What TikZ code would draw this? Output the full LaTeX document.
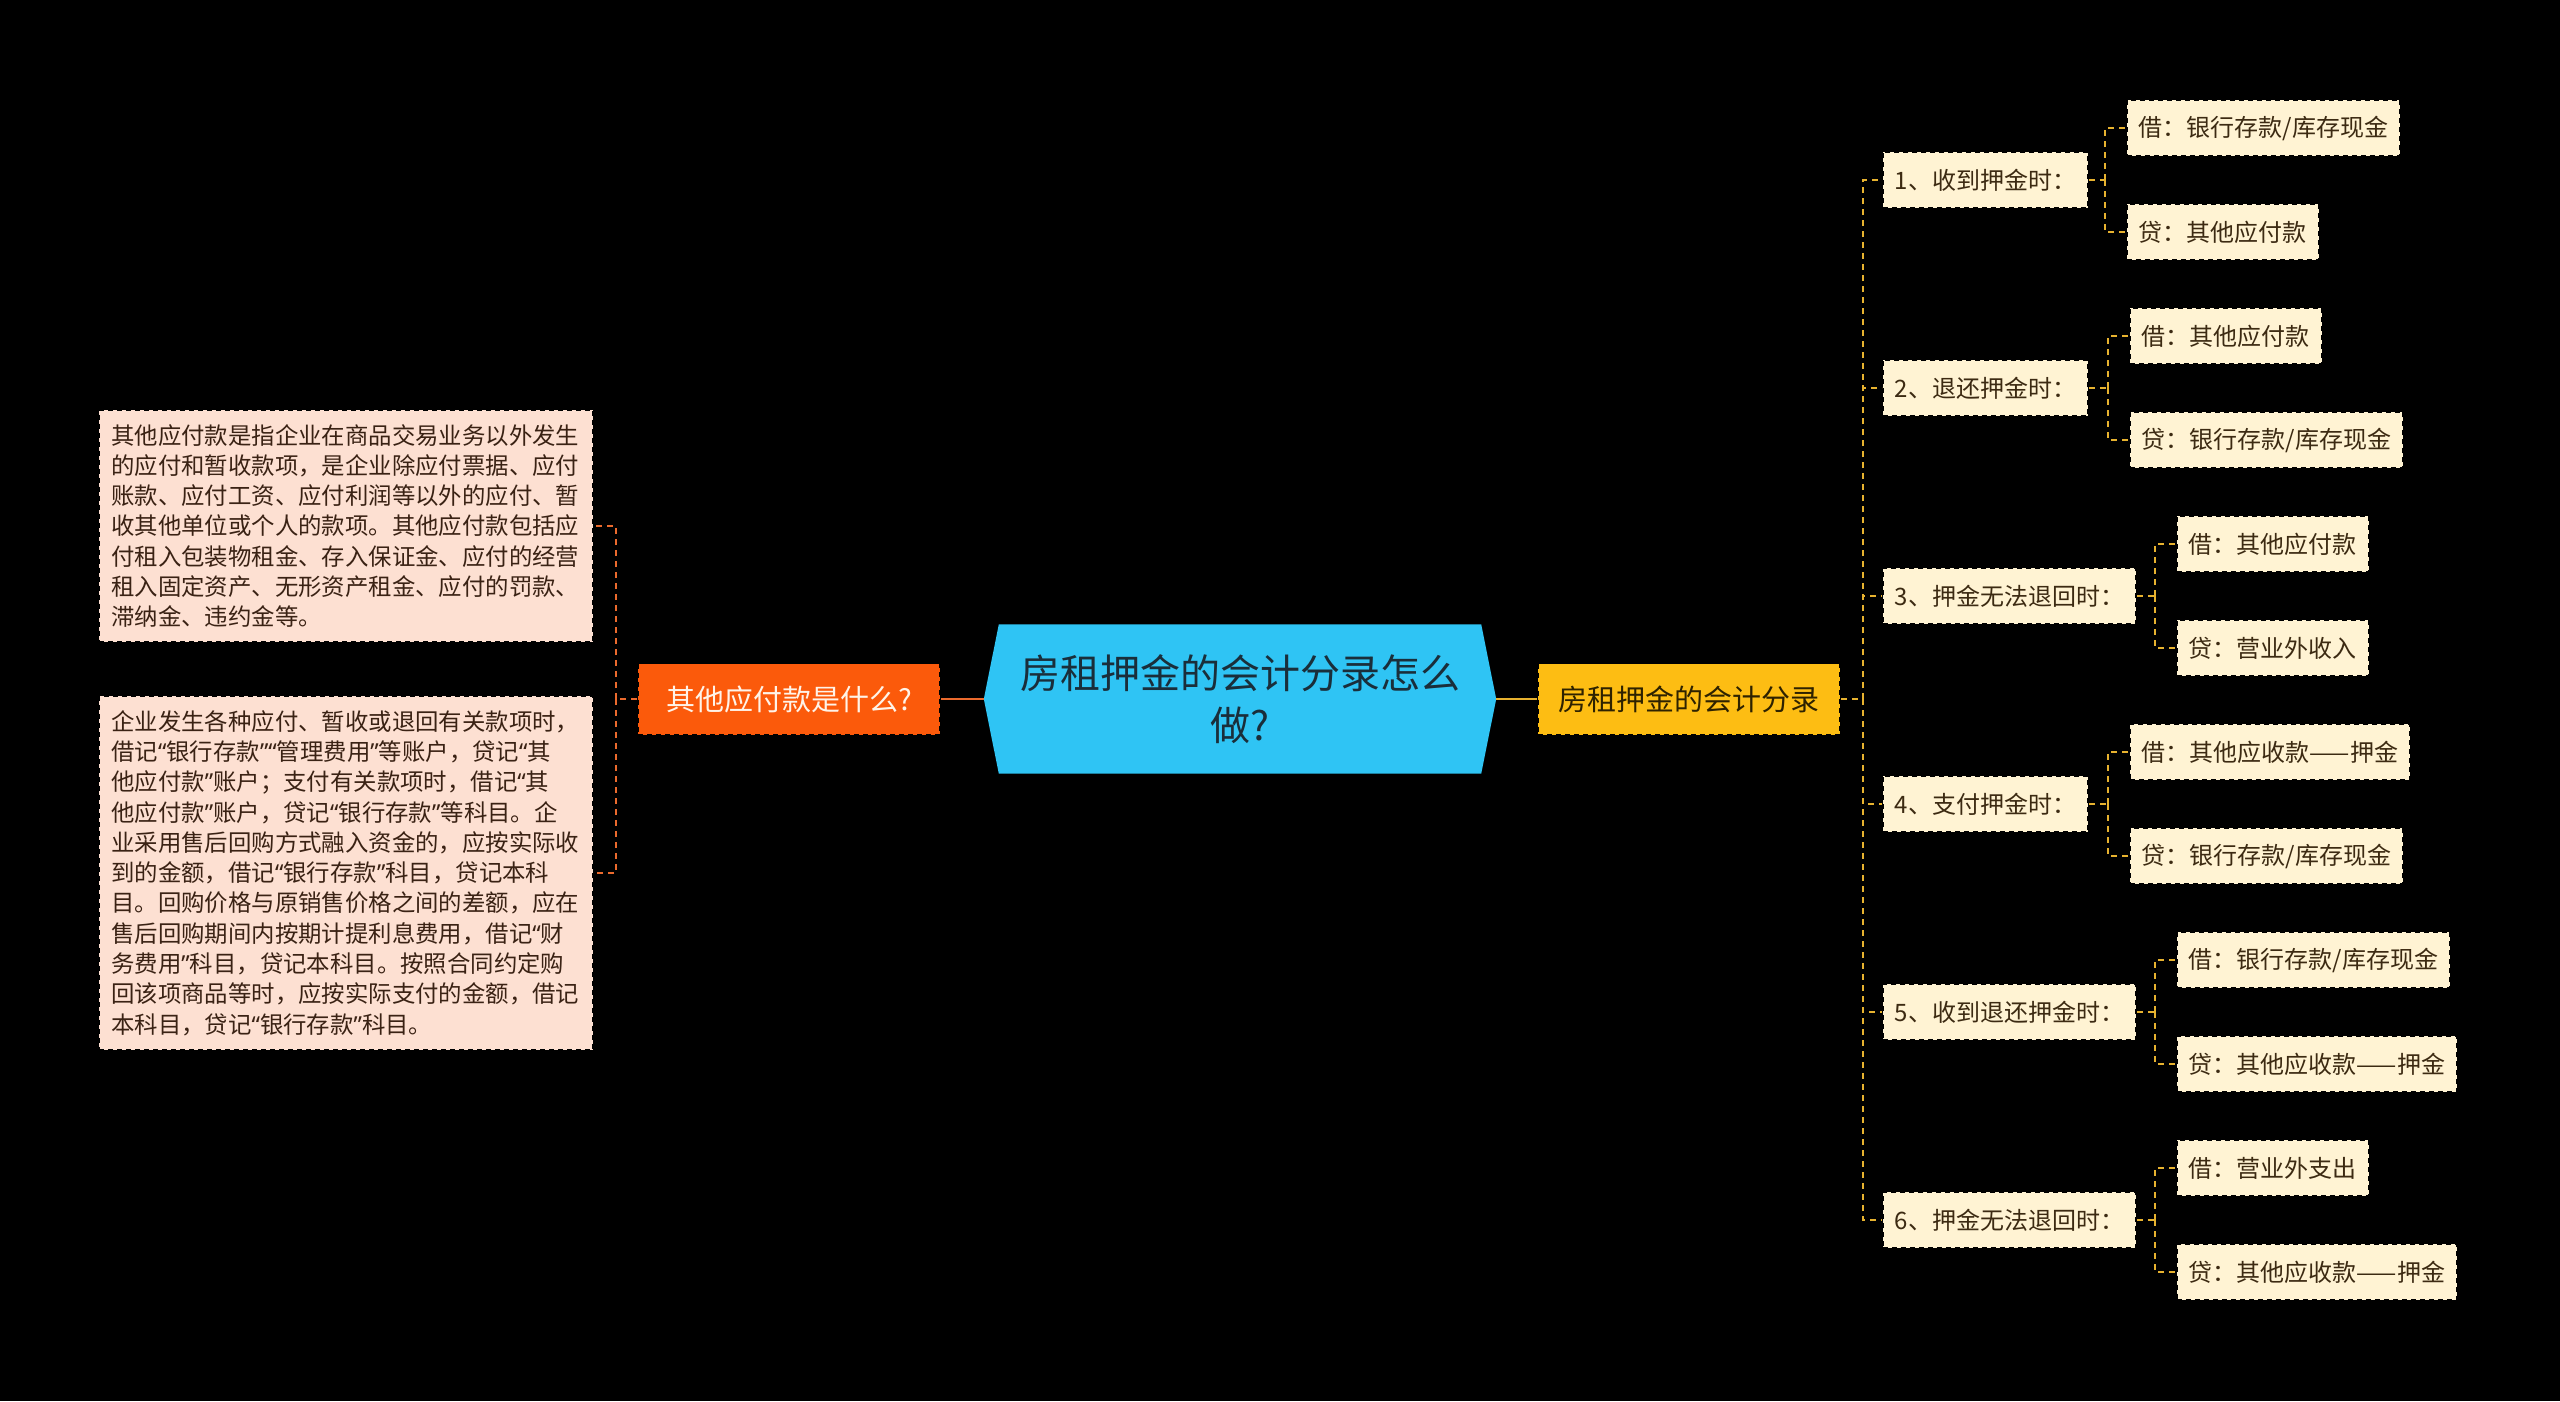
\documentclass[tikz,border=0pt]{standalone}
\usepackage{fontspec}
\setmainfont{Noto Sans CJK SC}
\newfontfamily\qfont{Noto Sans}
\newcommand\qo{{\qfont “}}
\newcommand\qc{{\qfont ”}}
\usetikzlibrary{backgrounds}
\definecolor{bgblack}{HTML}{000000}
\definecolor{hexfill}{HTML}{2FC4F4}
\definecolor{hextext}{HTML}{1A2E3A}
\definecolor{orangeF}{HTML}{FB5A0B}
\definecolor{orangeT}{HTML}{FFF3E8}
\definecolor{yellowF}{HTML}{FDBD13}
\definecolor{yellowT}{HTML}{2E2200}
\definecolor{cream}{HTML}{FFF3D3}
\definecolor{brownT}{HTML}{3C2A12}
\definecolor{peach}{HTML}{FDE0D2}
\definecolor{brownL}{HTML}{3A2214}
\definecolor{lineR}{HTML}{E7B22F}
\definecolor{lineL}{HTML}{EB6A2D}
\tikzset{
  dbox/.style={draw=bgblack, dash pattern=on 5pt off 4pt, line width=1.6pt, inner sep=0pt},
  hexnode/.style={minimum width=512pt, minimum height=149pt, inner sep=0pt, align=center, text=hextext, font=\fontsize{40}{52}\selectfont},
  orangenode/.style={dbox, fill=orangeF, text=orangeT, minimum width=302pt, minimum height=71pt, font=\fontsize{29}{34}\selectfont},
  yellownode/.style={dbox, fill=yellowF, text=yellowT, minimum width=302pt, minimum height=71pt, font=\fontsize{29}{34}\selectfont},
  leafnode/.style={dbox, fill=cream, text=brownT, minimum height=56pt, inner xsep=12pt, anchor=west, font=\fontsize{24}{28}\selectfont},
  textbox/.style={dbox, fill=peach, text=brownL, text width=470pt, inner xsep=12pt, inner ysep=14pt, align=left, anchor=east, font=\fontsize{23.4}{30.3}\selectfont},
  conR/.style={draw=lineR, line width=2pt, dash pattern=on 6pt off 5pt},
  conL/.style={draw=lineL, line width=2pt, dash pattern=on 6pt off 5pt},
}
\begin{document}
\begin{tikzpicture}[x=1pt,y=-1pt]
\path[use as bounding box] (0,0) rectangle (2560,1401);

% central topic
\node[hexnode] (c) at (1240,699) {房租押金的会计分录怎么\\做?};
\node[orangenode] (o) at (789,699) {其他应付款是什么?};
\node[yellownode] (y) at (1689,699) {房租押金的会计分录};

% left texts
\node[textbox] (t1) at (594,526) {其他应付款是指企业在商品交易业务以外发生\\的应付和暂收款项，是企业除应付票据、应付\\账款、应付工资、应付利润等以外的应付、暂\\收其他单位或个人的款项。其他应付款包括应\\付租入包装物租金、存入保证金、应付的经营\\租入固定资产、无形资产租金、应付的罚款、\\滞纳金、违约金等。};
\node[textbox] (t2) at (594,873) {企业发生各种应付、暂收或退回有关款项时，\\借记\qo 银行存款\qc\qo 管理费用\qc 等账户，贷记\qo 其\\他应付款\qc 账户；支付有关款项时，借记\qo 其\\他应付款\qc 账户，贷记\qo 银行存款\qc 等科目。企\\业采用售后回购方式融入资金的，应按实际收\\到的金额，借记\qo 银行存款\qc 科目，贷记本科\\目。回购价格与原销售价格之间的差额，应在\\售后回购期间内按期计提利息费用，借记\qo 财\\务费用\qc 科目，贷记本科目。按照合同约定购\\回该项商品等时，应按实际支付的金额，借记\\本科目，贷记\qo 银行存款\qc 科目。};

% level 2
\node[leafnode] (n1) at (1882,180) {1、收到押金时：};
\node[leafnode] (n2) at (1882,388) {2、退还押金时：};
\node[leafnode] (n3) at (1882,596) {3、押金无法退回时：};
\node[leafnode] (n4) at (1882,804) {4、支付押金时：};
\node[leafnode] (n5) at (1882,1012) {5、收到退还押金时：};
\node[leafnode] (n6) at (1882,1220) {6、押金无法退回时：};

% level 3
\node[leafnode] (n1a) at (2126,128) {借：银行存款/库存现金};
\node[leafnode] (n1b) at (2126,232) {贷：其他应付款};
\node[leafnode] (n2a) at (2129,336) {借：其他应付款};
\node[leafnode] (n2b) at (2129,440) {贷：银行存款/库存现金};
\node[leafnode] (n3a) at (2176,544) {借：其他应付款};
\node[leafnode] (n3b) at (2176,648) {贷：营业外收入};
\node[leafnode] (n4a) at (2129,752) {借：其他应收款——押金};
\node[leafnode] (n4b) at (2129,856) {贷：银行存款/库存现金};
\node[leafnode] (n5a) at (2176,960) {借：银行存款/库存现金};
\node[leafnode] (n5b) at (2176,1064) {贷：其他应收款——押金};
\node[leafnode] (n6a) at (2176,1168) {借：营业外支出};
\node[leafnode] (n6b) at (2176,1272) {贷：其他应收款——押金};

% connectors
\draw[lineL, line width=2.5pt] (c.west) -- (o.east);
\draw[lineR, line width=2.5pt] (c.east) -- (y.west);

\coordinate (lv) at (616,699);
\draw[conL] (o.west) -- (lv);
\draw[conL] (lv) |- (t1.east);
\draw[conL] (lv) |- (t2.east);

\coordinate (rv) at (1863,699);
\draw[conR] (y.east) -- (rv);
\foreach \n in {n1,n2,n3,n4,n5,n6}{
  \draw[conR] (rv) |- (\n.west);
  \path (\n a.west) ++(-21,0) coordinate (tmp\n);
  \coordinate (v\n) at (tmp\n |- \n.east);
  \draw[conR] (\n.east) -- (v\n);
  \draw[conR] (v\n) |- (\n a.west);
  \draw[conR] (v\n) |- (\n b.west);
}

\begin{scope}[on background layer]
\fill[bgblack] (0,0) rectangle (2560,1401);
\fill[hexfill] (c.west) -- ([xshift=15pt]c.north west) -- ([xshift=-15pt]c.north east) -- (c.east) -- ([xshift=-15pt]c.south east) -- ([xshift=15pt]c.south west) -- cycle;
\end{scope}
\end{tikzpicture}
\end{document}
